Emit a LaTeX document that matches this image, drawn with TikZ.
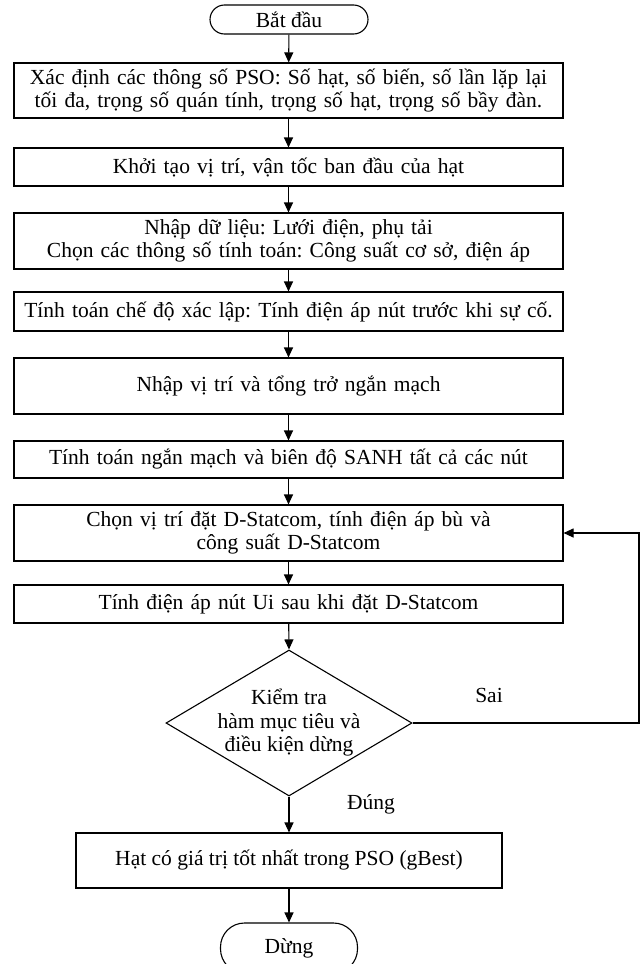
\documentclass[tikz,border=0pt]{standalone}
\usepackage{fontspec}
\setmainfont{Liberation Serif}
\usetikzlibrary{shapes.geometric,arrows.meta}
\frenchspacing
\begin{document}
\begin{tikzpicture}[x=1pt,y=-1pt,
  every node/.style={font=\fontsize{21.5}{23.5}\selectfont},
  box/.style={draw,line width=1.1pt,minimum width=549pt,inner sep=0pt,align=center,text width=547pt},
  arr/.style={line width=1.1pt,-{Triangle[length=10pt,width=9pt]}},
  lbl/.style={inner sep=0pt}]
\useasboundingbox (0,0) rectangle (641,964);
\node[draw,line width=1.1pt,rounded corners=14.5pt,minimum width=158pt,minimum height=29pt,inner sep=0pt] (start) at (289,19.5) {Bắt đầu};
\node[box,minimum height=55pt] (b1) at (288.5,90.5) {Xác định các thông số PSO: Số hạt, số biến, số lần lặp lại\\tối đa, trọng số quán tính, trọng số hạt, trọng số bầy đàn.};
\node[box,minimum height=38pt] (b2) at (288.5,167) {Khởi tạo vị trí, vận tốc ban đầu của hạt};
\node[box,minimum height=56pt] (b3) at (288.5,241) {Nhập dữ liệu: Lưới điện, phụ tải\\Chọn các thông số tính toán: Công suất cơ sở, điện áp};
\node[box,minimum height=39pt] (b4) at (288.5,311.5) {Tính toán chế độ xác lập: Tính điện áp nút trước khi sự cố.};
\node[box,minimum height=56pt] (b5) at (288.5,386) {Nhập vị trí và tổng trở ngắn mạch};
\node[box,minimum height=37pt] (b6) at (288.5,459.5) {Tính toán ngắn mạch và biên độ SANH tất cả các nút};
\node[box,minimum height=56pt] (b7) at (288.5,533) {Chọn vị trí đặt D-Statcom, tính điện áp bù và\\công suất D-Statcom};
\node[box,minimum height=38pt] (b8) at (288.5,604) {Tính điện áp nút Ui sau khi đặt D-Statcom};
\node[draw,line width=1.1pt,diamond,minimum width=246pt,minimum height=146pt,inner sep=0pt] (d) at (289,723) {};
\node[lbl,align=center] (dt) at (289,723) {Kiểm tra\\hàm mục tiêu và\\điều kiện dừng};
\node[draw,line width=1.1pt,minimum width=426pt,minimum height=55pt,inner sep=0pt] (b9) at (289,860.5) {Hạt có giá trị tốt nhất trong PSO (gBest)};
\node[draw,line width=1.1pt,rounded corners=24pt,minimum width=137pt,minimum height=50pt,inner sep=0pt] (stop) at (289,948) {Dừng};
\coordinate (c1) at (639,723);
\coordinate (c2) at (639,533);
\node[lbl] (sai) at (489,695) {Sai};
\node[lbl] (dung) at (371,804) {Đúng};
\draw[arr] (start) -- (b1);
\draw[arr] (b1) -- (b2);
\draw[arr] (b2) -- (b3);
\draw[arr] (b3) -- (b4);
\draw[arr] (b4) -- (b5);
\draw[arr] (b5) -- (b6);
\draw[arr] (b6) -- (b7);
\draw[arr] (b7) -- (b8);
\draw[arr] (b8) -- (d.north);
\draw[arr] (d.south) -- (b9);
\draw[arr] (b9) -- (stop);
\draw[arr] (d.east) -- (c1) -- (c2) -- (b7.east);
\end{tikzpicture}
\end{document}
